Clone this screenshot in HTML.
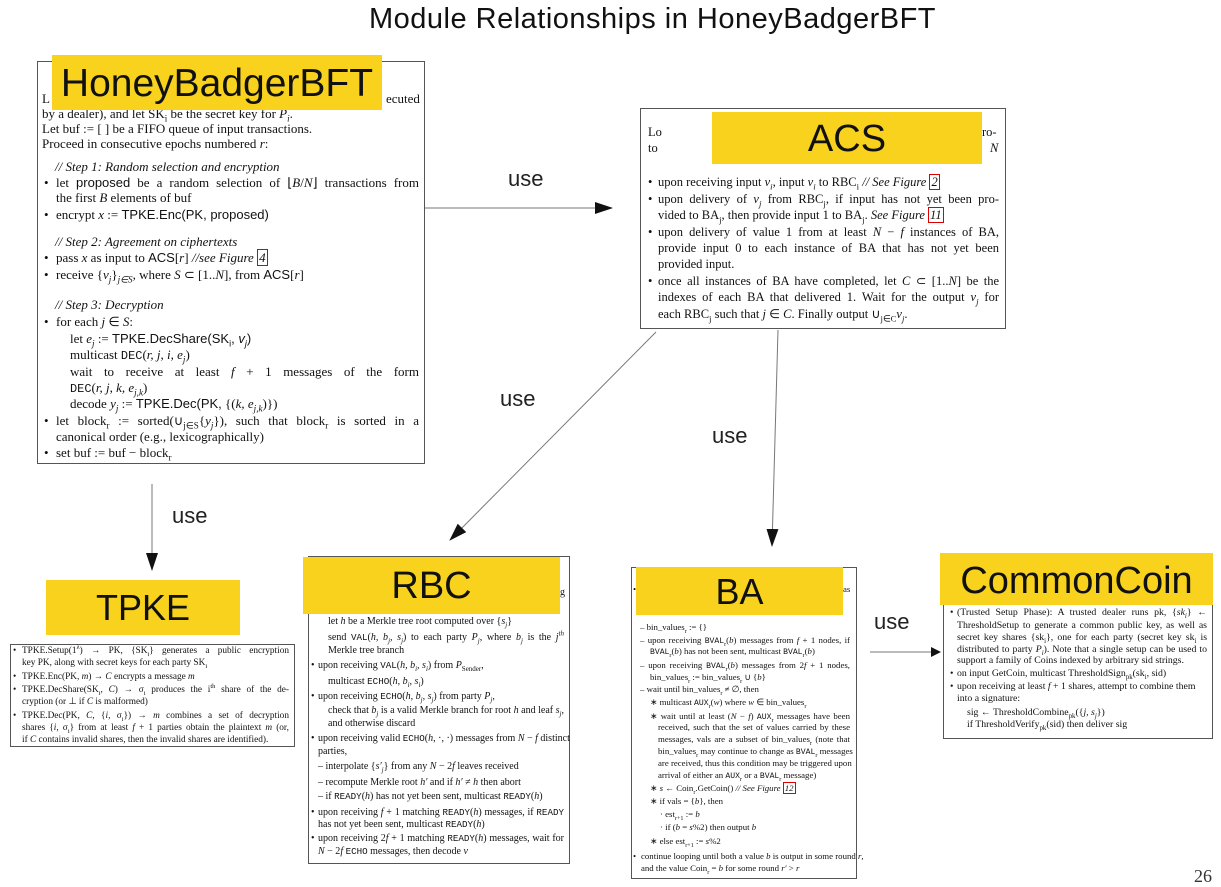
<!DOCTYPE html>
<html><head><meta charset="utf-8"><style>
body{margin:0;width:1221px;height:886px;background:#fff;position:relative;overflow:hidden;font-family:"Liberation Serif",serif;color:#111}
sub,sup{line-height:0;font-size:70%}
.box{position:absolute;border:1px solid #555;background:#fff}
.y{position:absolute;background:#f8d21c;color:#111;font-family:"Liberation Sans",sans-serif;text-align:center}
.l{position:absolute;white-space:nowrap;line-height:1}
.j{text-align:justify;text-align-last:justify;white-space:nowrap}
.hb .l{font-size:13px}
.acs .l{font-size:12.5px}
.rbc .l{font-size:10px}
.ba .l{font-size:8.8px}
.tp .l{font-size:9.3px}
.cc .l{font-size:9.8px}
.u{position:absolute;font-family:"Liberation Sans",sans-serif;font-size:22px;color:#222}
.rb{border:1px solid #d00;padding:0 1px}
i{font-style:italic}
.sf{font-family:"Liberation Sans",sans-serif}
.m{font-family:"Liberation Mono",monospace;font-size:92%}
</style></head><body>
<div style="position:absolute;left:0;width:1305px;top:3px;text-align:center;font-family:'Liberation Sans',sans-serif;font-size:29px;color:#111;letter-spacing:0.5px">Module Relationships in HoneyBadgerBFT</div>

<div class="box hb" style="left:37px;top:61px;width:386px;height:401px"></div>
<div class="hb">
<div class="l" style="left:42px;top:92px">L</div>
<div class="l" style="left:386px;top:92px">ecuted</div>
<div class="l" style="left:42px;top:107px">by a dealer), and let SK<sub>i</sub> be the secret key for <i>P<sub>i</sub></i>.</div>
<div class="l" style="left:42px;top:122px">Let buf := [ ] be a FIFO queue of input transactions.</div>
<div class="l" style="left:42px;top:137px">Proceed in consecutive epochs numbered <i>r</i>:</div>
<div class="l" style="left:55px;top:160px"><i>// Step 1: Random selection and encryption</i></div>
<div class="l" style="left:44px;top:176px">•</div><div class="l j" style="left:56px;top:176px;width:363px">let <span class="sf">proposed</span> be a random selection of ⌊<i>B</i>/<i>N</i>⌋ transactions from</div>
<div class="l" style="left:56px;top:191px">the first <i>B</i> elements of buf</div>
<div class="l" style="left:44px;top:208px">•</div><div class="l" style="left:56px;top:208px">encrypt <i>x</i> := <span class="sf">TPKE.Enc(PK, proposed)</span></div>
<div class="l" style="left:55px;top:235px"><i>// Step 2: Agreement on ciphertexts</i></div>
<div class="l" style="left:44px;top:251px">•</div><div class="l" style="left:56px;top:251px">pass <i>x</i> as input to <span class="sf">ACS</span>[<i>r</i>] <i>//see Figure <span class="rb">4</span></i></div>
<div class="l" style="left:44px;top:268px">•</div><div class="l" style="left:56px;top:268px">receive {<i>v<sub>j</sub></i>}<sub><i>j∈S</i></sub>, where <i>S</i> ⊂ [1..<i>N</i>], from <span class="sf">ACS</span>[<i>r</i>]</div>
<div class="l" style="left:55px;top:298px"><i>// Step 3: Decryption</i></div>
<div class="l" style="left:44px;top:315px">•</div><div class="l" style="left:56px;top:315px">for each <i>j</i> ∈ <i>S</i>:</div>
<div class="l" style="left:70px;top:332px">let <i>e<sub>j</sub></i> := <span class="sf">TPKE.DecShare(SK<sub>i</sub>, <i>v<sub>j</sub></i>)</span></div>
<div class="l" style="left:70px;top:348px">multicast <span class="m">DEC</span>(<i>r, j, i, e<sub>j</sub></i>)</div>
<div class="l j" style="left:70px;top:365px;width:349px">wait to receive at least <i>f</i> + 1 messages of the form</div>
<div class="l" style="left:70px;top:381px"><span class="m">DEC</span>(<i>r, j, k, e<sub>j,k</sub></i>)</div>
<div class="l" style="left:70px;top:397px">decode <i>y<sub>j</sub></i> := <span class="sf">TPKE.Dec(PK,</span> {(<i>k, e<sub>j,k</sub></i>)})</div>
<div class="l" style="left:44px;top:414px">•</div><div class="l j" style="left:56px;top:414px;width:363px">let block<sub>r</sub> := sorted(∪<sub>j∈S</sub>{<i>y<sub>j</sub></i>}), such that block<sub>r</sub> is sorted in a</div>
<div class="l" style="left:56px;top:430px">canonical order (e.g., lexicographically)</div>
<div class="l" style="left:44px;top:446px">•</div><div class="l" style="left:56px;top:446px">set buf := buf − block<sub>r</sub></div>
</div>
<div class="y" style="left:52px;top:55px;width:330px;height:55px;font-size:39px;line-height:58px">HoneyBadgerBFT</div>

<div class="box acs" style="left:640px;top:108px;width:364px;height:219px"></div>
<div class="acs">
<div class="l" style="left:648px;top:126px">Lo</div><div class="l" style="left:982px;top:126px">ro-</div>
<div class="l" style="left:648px;top:142px">to</div><div class="l" style="left:990px;top:142px"><i>N</i></div>
<div class="l" style="left:648px;top:176px">•</div><div class="l" style="left:658px;top:176px">upon receiving input <i>v<sub>i</sub></i>, input <i>v<sub>i</sub></i> to RBC<sub>i</sub> <i>// See Figure <span class="rb">2</span></i></div>
<div class="l" style="left:648px;top:193px">•</div><div class="l j" style="left:658px;top:193px;width:341px">upon delivery of <i>v<sub>j</sub></i> from RBC<sub>j</sub>, if input has not yet been pro-</div>
<div class="l" style="left:658px;top:209px">vided to BA<sub>j</sub>, then provide input 1 to BA<sub>j</sub>. <i>See Figure <span class="rb">11</span></i></div>
<div class="l" style="left:648px;top:226px">•</div><div class="l j" style="left:658px;top:226px;width:341px">upon delivery of value 1 from at least <i>N</i> − <i>f</i> instances of BA,</div>
<div class="l j" style="left:658px;top:242px;width:341px">provide input 0 to each instance of BA that has not yet been</div>
<div class="l" style="left:658px;top:258px">provided input.</div>
<div class="l" style="left:648px;top:275px">•</div><div class="l j" style="left:658px;top:275px;width:341px">once all instances of BA have completed, let <i>C</i> ⊂ [1..<i>N</i>] be the</div>
<div class="l j" style="left:658px;top:291px;width:341px">indexes of each BA that delivered 1. Wait for the output <i>v<sub>j</sub></i> for</div>
<div class="l" style="left:658px;top:308px">each RBC<sub>j</sub> such that <i>j</i> ∈ <i>C</i>. Finally output ∪<sub>j∈C</sub><i>v<sub>j</sub></i>.</div>
</div>
<div class="y" style="left:712px;top:112px;width:270px;height:52px;font-size:38px;line-height:54px">ACS</div>

<div class="box tp" style="left:10px;top:644px;width:283px;height:101px"></div>
<div class="tp">
<div class="l" style="left:13px;top:647px">•</div><div class="l j" style="left:22px;top:647px;width:267px">TPKE.Setup(1<sup>λ</sup>) → PK, {SK<sub>i</sub>} generates a public encryption</div>
<div class="l" style="left:22px;top:659px">key PK, along with secret keys for each party SK<sub>i</sub></div>
<div class="l" style="left:13px;top:673px">•</div><div class="l" style="left:22px;top:673px">TPKE.Enc(PK, <i>m</i>) → <i>C</i> encrypts a message <i>m</i></div>
<div class="l" style="left:13px;top:686px">•</div><div class="l j" style="left:22px;top:686px;width:267px">TPKE.DecShare(SK<sub>i</sub>, <i>C</i>) → σ<sub>i</sub> produces the i<sup>th</sup> share of the de-</div>
<div class="l" style="left:22px;top:698px">cryption (or ⊥ if <i>C</i> is malformed)</div>
<div class="l" style="left:13px;top:712px">•</div><div class="l j" style="left:22px;top:712px;width:267px">TPKE.Dec(PK, <i>C</i>, {<i>i</i>, σ<sub>i</sub>}) → <i>m</i> combines a set of decryption</div>
<div class="l j" style="left:22px;top:724px;width:267px">shares {<i>i</i>, σ<sub>i</sub>} from at least <i>f</i> + 1 parties obtain the plaintext <i>m</i> (or,</div>
<div class="l" style="left:22px;top:736px">if <i>C</i> contains invalid shares, then the invalid shares are identified).</div>
</div>
<div class="y" style="left:46px;top:580px;width:194px;height:55px;font-size:36px;line-height:56px">TPKE</div>

<div class="box rbc" style="left:308px;top:556px;width:260px;height:306px"></div>
<div class="rbc">
<div class="l" style="left:560px;top:588px">g</div>
<div class="l" style="left:328px;top:617px">let <i>h</i> be a Merkle tree root computed over {<i>s<sub>j</sub></i>}</div>
<div class="l j" style="left:328px;top:633px;width:236px">send <span class="m">VAL</span>(<i>h, b<sub>j</sub>, s<sub>j</sub></i>) to each party <i>P<sub>j</sub></i>, where <i>b<sub>j</sub></i> is the <i>j<sup>th</sup></i></div>
<div class="l" style="left:328px;top:646px">Merkle tree branch</div>
<div class="l" style="left:311px;top:661px">•</div><div class="l" style="left:318px;top:661px">upon receiving <span class="m">VAL</span>(<i>h, b<sub>i</sub>, s<sub>i</sub></i>) from <i>P</i><sub>Sender</sub>,</div>
<div class="l" style="left:328px;top:677px">multicast <span class="m">ECHO</span>(<i>h, b<sub>i</sub>, s<sub>i</sub></i>)</div>
<div class="l" style="left:311px;top:692px">•</div><div class="l" style="left:318px;top:692px">upon receiving <span class="m">ECHO</span>(<i>h, b<sub>j</sub>, s<sub>j</sub></i>) from party <i>P<sub>j</sub></i>,</div>
<div class="l j" style="left:328px;top:706px;width:236px">check that <i>b<sub>j</sub></i> is a valid Merkle branch for root <i>h</i> and leaf <i>s<sub>j</sub></i>,</div>
<div class="l" style="left:328px;top:719px">and otherwise discard</div>
<div class="l" style="left:311px;top:734px">•</div><div class="l j" style="left:318px;top:734px;width:246px">upon receiving valid <span class="m">ECHO</span>(<i>h</i>, ·, ·) messages from <i>N</i> − <i>f</i> distinct</div>
<div class="l" style="left:318px;top:747px">parties,</div>
<div class="l" style="left:318px;top:762px">– interpolate {<i>s′<sub>j</sub></i>} from any <i>N</i> − 2<i>f</i> leaves received</div>
<div class="l" style="left:318px;top:778px">– recompute Merkle root <i>h′</i> and if <i>h′</i> ≠ <i>h</i> then abort</div>
<div class="l" style="left:318px;top:792px">– if <span class="m">READY</span>(<i>h</i>) has not yet been sent, multicast <span class="m">READY</span>(<i>h</i>)</div>
<div class="l" style="left:311px;top:808px">•</div><div class="l j" style="left:318px;top:808px;width:246px">upon receiving <i>f</i> + 1 matching <span class="m">READY</span>(<i>h</i>) messages, if <span class="m">READY</span></div>
<div class="l" style="left:318px;top:820px">has not yet been sent, multicast <span class="m">READY</span>(<i>h</i>)</div>
<div class="l" style="left:311px;top:834px">•</div><div class="l j" style="left:318px;top:834px;width:246px">upon receiving 2<i>f</i> + 1 matching <span class="m">READY</span>(<i>h</i>) messages, wait for</div>
<div class="l" style="left:318px;top:847px"><i>N</i> − 2<i>f</i> <span class="m">ECHO</span> messages, then decode <i>v</i></div>
</div>
<div class="y" style="left:303px;top:557px;width:257px;height:57px;font-size:38px;line-height:58px">RBC</div>

<div class="box ba" style="left:631px;top:567px;width:224px;height:310px"></div>
<div class="ba">
<div class="l" style="left:633px;top:585px">•</div><div class="l" style="left:843px;top:585px">as</div>
<div class="l" style="left:640px;top:623px">– bin_values<sub>r</sub> := {}</div>
<div class="l j" style="left:640px;top:636px;width:210px">– upon receiving <span class="m">BVAL</span><sub>r</sub>(<i>b</i>) messages from <i>f</i> + 1 nodes, if</div>
<div class="l" style="left:650px;top:647px"><span class="m">BVAL</span><sub>r</sub>(<i>b</i>) has not been sent, multicast <span class="m">BVAL</span><sub>r</sub>(<i>b</i>)</div>
<div class="l j" style="left:640px;top:661px;width:210px">– upon receiving <span class="m">BVAL</span><sub>r</sub>(<i>b</i>) messages from 2<i>f</i> + 1 nodes,</div>
<div class="l" style="left:650px;top:673px">bin_values<sub>r</sub> := bin_values<sub>r</sub> ∪ {<i>b</i>}</div>
<div class="l" style="left:640px;top:685px">– wait until bin_values<sub>r</sub> ≠ ∅, then</div>
<div class="l" style="left:650px;top:698px">∗ multicast <span class="m">AUX</span><sub>r</sub>(<i>w</i>) where <i>w</i> ∈ bin_values<sub>r</sub></div>
<div class="l j" style="left:650px;top:712px;width:200px">∗ wait until at least (<i>N</i> − <i>f</i>) <span class="m">AUX</span><sub>r</sub> messages have been</div>
<div class="l j" style="left:658px;top:723px;width:192px">received, such that the set of values carried by these</div>
<div class="l j" style="left:658px;top:735px;width:192px">messages, vals are a subset of bin_values<sub>r</sub> (note that</div>
<div class="l j" style="left:658px;top:747px;width:192px">bin_values<sub>r</sub> may continue to change as <span class="m">BVAL</span><sub>r</sub> messages</div>
<div class="l j" style="left:658px;top:759px;width:192px">are received, thus this condition may be triggered upon</div>
<div class="l" style="left:658px;top:771px">arrival of either an <span class="m">AUX</span><sub>r</sub> or a <span class="m">BVAL</span><sub>r</sub> message)</div>
<div class="l" style="left:650px;top:784px">∗ <i>s</i> ← Coin<sub>r</sub>.GetCoin() <i>// See Figure <span class="rb">12</span></i></div>
<div class="l" style="left:650px;top:797px">∗ if vals = {<i>b</i>}, then</div>
<div class="l" style="left:660px;top:810px">· est<sub>r+1</sub> := <i>b</i></div>
<div class="l" style="left:660px;top:823px">· if (<i>b</i> = <i>s</i>%2) then output <i>b</i></div>
<div class="l" style="left:650px;top:837px">∗ else est<sub>r+1</sub> := <i>s</i>%2</div>
<div class="l" style="left:633px;top:852px">•</div><div class="l j" style="left:641px;top:852px;width:210px">continue looping until both a value <i>b</i> is output in some round <i>r</i>,</div>
<div class="l" style="left:641px;top:864px">and the value Coin<sub>r</sub> = <i>b</i> for some round <i>r′</i> &gt; <i>r</i></div>
</div>
<div class="y" style="left:636px;top:567px;width:207px;height:48px;font-size:36px;line-height:50px">BA</div>

<div class="box cc" style="left:943px;top:580px;width:268px;height:157px"></div>
<div class="cc">
<div class="l" style="left:950px;top:608px">•</div><div class="l j" style="left:957px;top:608px;width:250px">(Trusted Setup Phase): A trusted dealer runs pk, {<i>sk<sub>i</sub></i>} ←</div>
<div class="l j" style="left:957px;top:621px;width:250px">ThresholdSetup to generate a common public key, as well as</div>
<div class="l j" style="left:957px;top:633px;width:250px">secret key shares {sk<sub>i</sub>}, one for each party (secret key sk<sub>i</sub> is</div>
<div class="l j" style="left:957px;top:645px;width:250px">distributed to party <i>P<sub>i</sub></i>). Note that a single setup can be used to</div>
<div class="l" style="left:957px;top:656px">support a family of Coins indexed by arbitrary sid strings.</div>
<div class="l" style="left:950px;top:669px">•</div><div class="l" style="left:957px;top:669px">on input GetCoin, multicast ThresholdSign<sub>pk</sub>(sk<sub>i</sub>, sid)</div>
<div class="l" style="left:950px;top:682px">•</div><div class="l" style="left:957px;top:682px">upon receiving at least <i>f</i> + 1 shares, attempt to combine them</div>
<div class="l" style="left:957px;top:694px">into a signature:</div>
<div class="l" style="left:967px;top:708px">sig ← ThresholdCombine<sub>pk</sub>({<i>j, s<sub>j</sub></i>})</div>
<div class="l" style="left:967px;top:720px">if ThresholdVerify<sub>pk</sub>(sid) then deliver sig</div>
</div>
<div class="y" style="left:940px;top:553px;width:273px;height:52px;font-size:38px;line-height:56px">CommonCoin</div>

<svg style="position:absolute;left:0;top:0" width="1221" height="886">
<defs><marker id="a" markerWidth="10" markerHeight="10" refX="9" refY="5" orient="auto" markerUnits="userSpaceOnUse"><path d="M0,0 L10,5 L0,10 Z" fill="#111"/></marker>
<marker id="b" markerWidth="18" markerHeight="12" refX="17" refY="6" orient="auto" markerUnits="userSpaceOnUse"><path d="M0,0 L18,6 L0,12 Z" fill="#111"/></marker></defs>
<line x1="425" y1="208" x2="612" y2="208" stroke="#777" stroke-width="1" marker-end="url(#b)"/>
<line x1="656" y1="332" x2="450" y2="540" stroke="#777" stroke-width="1" marker-end="url(#b)"/>
<line x1="778" y1="330" x2="772" y2="546" stroke="#777" stroke-width="1" marker-end="url(#b)"/>
<line x1="152" y1="484" x2="152" y2="570" stroke="#777" stroke-width="1" marker-end="url(#b)"/>
<line x1="870" y1="652" x2="940" y2="652" stroke="#777" stroke-width="1" marker-end="url(#a)"/>
</svg>
<div class="u" style="left:508px;top:166px">use</div>
<div class="u" style="left:500px;top:386px">use</div>
<div class="u" style="left:712px;top:423px">use</div>
<div class="u" style="left:172px;top:503px">use</div>
<div class="u" style="left:874px;top:609px">use</div>
<div style="position:absolute;left:1194px;top:866px;font-size:18px;font-family:'Liberation Serif',serif;color:#333">26</div>
</body></html>
